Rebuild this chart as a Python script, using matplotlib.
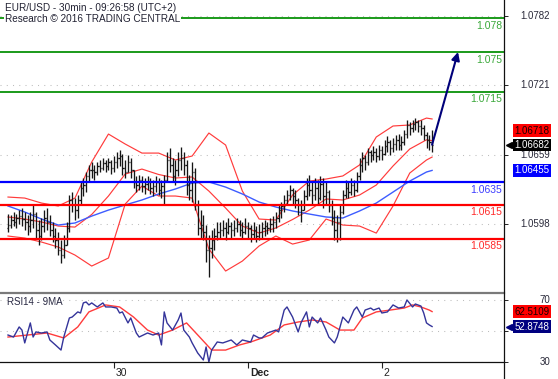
import numpy as np
import matplotlib.pyplot as plt
from matplotlib import transforms
from matplotlib.lines import Line2D

plt.rcParams['font.family'] = ['Liberation Sans', 'DejaVu Sans']

W, H = 558, 379

# EUR/USD 30min bars, bar 0 = 29 Nov 05:00 (UTC+2)
day_ticks = [38, 86, 134]
day_labels = ['30', 'Dec', '2']

first_open = 1.05947
highs = [
    1.06070, 1.06061, 1.06088, 1.06070, 1.06106, 1.06123, 1.06088, 1.06061, 1.06088, 1.06150,
    1.06088, 1.06017, 1.06035, 1.06106, 1.06123, 1.06061, 1.06000, 1.05947, 1.05911, 1.05841,
    1.05885, 1.06000, 1.06238, 1.06264, 1.06211, 1.06238, 1.06353, 1.06388, 1.06441, 1.06503,
    1.06529, 1.06503, 1.06529, 1.06547, 1.06564, 1.06547, 1.06564, 1.06547, 1.06582, 1.06617,
    1.06635, 1.06600, 1.06547, 1.06591, 1.06564, 1.06459, 1.06406, 1.06414, 1.06406, 1.06388,
    1.06406, 1.06388, 1.06370, 1.06406, 1.06388, 1.06370, 1.06414, 1.06617, 1.06653, 1.06564,
    1.06547, 1.06617, 1.06662, 1.06617, 1.06547, 1.06414, 1.06529, 1.06476, 1.06194, 1.06106,
    1.06061, 1.05973, 1.05885, 1.05929, 1.05947, 1.06000, 1.06000, 1.06017, 1.06000, 1.06035,
    1.06000, 1.06017, 1.06035, 1.06017, 1.06000, 1.06035, 1.06000, 1.05973, 1.06000, 1.05964,
    1.05982, 1.06000, 1.06017, 1.06000, 1.06035, 1.06053, 1.06088, 1.06150, 1.06176, 1.06238,
    1.06282, 1.06326, 1.06300, 1.06282, 1.06211, 1.06194, 1.06282, 1.06388, 1.06414, 1.06353,
    1.06388, 1.06370, 1.06406, 1.06388, 1.06353, 1.06282, 1.06194, 1.06106, 1.06061, 1.06150,
    1.06282, 1.06370, 1.06353, 1.06388, 1.06370, 1.06441, 1.06564, 1.06617, 1.06591, 1.06653,
    1.06635, 1.06670, 1.06653, 1.06679, 1.06670, 1.06723, 1.06759, 1.06723, 1.06741, 1.06767,
    1.06776, 1.06759, 1.06812, 1.06900, 1.06882, 1.06900, 1.06917, 1.06900, 1.06900, 1.06856,
    1.06794, 1.06767, 1.06812]
lows = [
    1.05911, 1.05947, 1.05964, 1.05947, 1.05982, 1.05964, 1.05929, 1.05885, 1.05911, 1.05947,
    1.05858, 1.05797, 1.05841, 1.05911, 1.05929, 1.05876, 1.05823, 1.05770, 1.05708, 1.05638,
    1.05682, 1.05797, 1.05911, 1.06088, 1.06017, 1.06035, 1.06150, 1.06229, 1.06264, 1.06353,
    1.06388, 1.06370, 1.06414, 1.06441, 1.06459, 1.06441, 1.06459, 1.06423, 1.06441, 1.06476,
    1.06494, 1.06414, 1.06388, 1.06441, 1.06388, 1.06300, 1.06264, 1.06282, 1.06264, 1.06247,
    1.06282, 1.06247, 1.06229, 1.06264, 1.06238, 1.06211, 1.06158, 1.06353, 1.06441, 1.06353,
    1.06326, 1.06406, 1.06459, 1.06414, 1.06238, 1.06194, 1.06176, 1.06106, 1.05885, 1.05858,
    1.05841, 1.05647, 1.05514, 1.05682, 1.05752, 1.05841, 1.05858, 1.05876, 1.05841, 1.05894,
    1.05858, 1.05876, 1.05911, 1.05876, 1.05858, 1.05894, 1.05858, 1.05823, 1.05858, 1.05823,
    1.05841, 1.05858, 1.05876, 1.05894, 1.05911, 1.05911, 1.05947, 1.06000, 1.06035, 1.06088,
    1.06150, 1.06194, 1.06150, 1.06123, 1.06061, 1.06000, 1.06106, 1.06194, 1.06229, 1.06150,
    1.06194, 1.06150, 1.06194, 1.06123, 1.06150, 1.06088, 1.05973, 1.05841, 1.05823, 1.05841,
    1.06070, 1.06211, 1.06211, 1.06238, 1.06229, 1.06264, 1.06370, 1.06441, 1.06459, 1.06503,
    1.06529, 1.06547, 1.06529, 1.06547, 1.06547, 1.06591, 1.06617, 1.06591, 1.06617, 1.06635,
    1.06635, 1.06635, 1.06679, 1.06741, 1.06767, 1.06794, 1.06812, 1.06794, 1.06767, 1.06723,
    1.06653, 1.06635, 1.06617]
closes = [
    1.05973, 1.06017, 1.06000, 1.06035, 1.06053, 1.06026, 1.06000, 1.05964, 1.06017, 1.06070,
    1.05929, 1.05876, 1.05964, 1.06035, 1.06000, 1.05929, 1.05876, 1.05841, 1.05752, 1.05708,
    1.05797, 1.05947, 1.06194, 1.06150, 1.06106, 1.06194, 1.06300, 1.06326, 1.06406, 1.06459,
    1.06459, 1.06441, 1.06494, 1.06476, 1.06520, 1.06494, 1.06529, 1.06476, 1.06529, 1.06564,
    1.06582, 1.06476, 1.06441, 1.06529, 1.06459, 1.06353, 1.06326, 1.06370, 1.06317, 1.06335,
    1.06353, 1.06300, 1.06317, 1.06353, 1.06282, 1.06317, 1.06370, 1.06547, 1.06503, 1.06406,
    1.06459, 1.06547, 1.06564, 1.06503, 1.06326, 1.06282, 1.06441, 1.06150, 1.05947, 1.05973,
    1.05911, 1.05752, 1.05770, 1.05841, 1.05876, 1.05911, 1.05929, 1.05947, 1.05911, 1.05964,
    1.05929, 1.05947, 1.05982, 1.05929, 1.05911, 1.05964, 1.05947, 1.05894, 1.05929, 1.05876,
    1.05911, 1.05947, 1.05964, 1.05947, 1.05982, 1.06000, 1.06035, 1.06106, 1.06141, 1.06194,
    1.06238, 1.06282, 1.06229, 1.06194, 1.06150, 1.06106, 1.06229, 1.06326, 1.06282, 1.06238,
    1.06300, 1.06211, 1.06335, 1.06229, 1.06264, 1.06150, 1.06035, 1.05929, 1.06000, 1.06088,
    1.06238, 1.06300, 1.06264, 1.06326, 1.06282, 1.06406, 1.06503, 1.06564, 1.06529, 1.06617,
    1.06591, 1.06617, 1.06582, 1.06635, 1.06600, 1.06670, 1.06706, 1.06653, 1.06688, 1.06723,
    1.06679, 1.06706, 1.06776, 1.06856, 1.06829, 1.06864, 1.06882, 1.06847, 1.06829, 1.06767,
    1.06723, 1.06706, 1.06682]

# bollinger (20) and MA50, read every 6 bars
ind_idx = [0, 6, 12, 18, 24, 30, 36, 42, 48, 54, 60, 66, 72, 78, 84, 90, 96, 102, 108, 114,
           120, 126, 132, 138, 144, 150, 152]
bb_upper = [1.06220, 1.06211, 1.06167, 1.06141, 1.06211, 1.06529, 1.06776, 1.06688, 1.06608,
            1.06608, 1.06547, 1.06582, 1.06785, 1.06679, 1.06273, 1.06026, 1.06017, 1.06238,
            1.06361, 1.06379, 1.06406, 1.06503, 1.06750, 1.06847, 1.06856, 1.06917, 1.06909]
bb_mid = [1.06044, 1.06026, 1.06000, 1.05964, 1.05955, 1.06066, 1.06229, 1.06423, 1.06467,
          1.06419, 1.06388, 1.06397, 1.06273, 1.06123, 1.05964, 1.05902, 1.05947, 1.06022,
          1.06105, 1.06203, 1.06194, 1.06238, 1.06326, 1.06494, 1.06644, 1.06725, 1.06718]
bb_lower = [1.05876, 1.05858, 1.05823, 1.05779, 1.05708, 1.05611, 1.05682, 1.06158, 1.06317,
            1.06229, 1.06229, 1.06211, 1.05761, 1.05567, 1.05655, 1.05788, 1.05876, 1.05805,
            1.05841, 1.06026, 1.05973, 1.05964, 1.05902, 1.06141, 1.06432, 1.06547, 1.06573]
ma50 = [1.06141, 1.06088, 1.06026, 1.05973, 1.05991, 1.06052, 1.06105, 1.06150, 1.06194,
        1.06247, 1.06291, 1.06344, 1.06353, 1.06308, 1.06247, 1.06176, 1.06132, 1.06097,
        1.06070, 1.06044, 1.06035, 1.06097, 1.06167, 1.06264, 1.06361, 1.06441, 1.06455]

# RSI14 and its 9MA
rsi_idx = [0, 2, 4, 5, 6, 8, 9, 10, 12, 14, 15, 17, 19, 20, 22, 23, 25, 26, 27, 28,
           29, 30, 32, 34, 35, 37, 39, 40, 41, 43, 44, 46, 47, 50, 52, 54, 55, 56, 57, 59,
           61, 62, 63, 65, 66, 68, 70, 71, 72, 73, 75, 77, 80, 82, 84, 87, 88, 90, 91, 93,
           96, 97, 99, 100, 102, 104, 105, 107, 108, 109, 111, 112, 114, 115, 117, 118, 120, 122, 124, 125,
           127, 128, 130, 131, 133, 134, 136, 138, 140, 142, 143, 145, 146, 148, 149, 150, 151, 152]
rsi_val = [47.4, 46.1, 52.6, 50.6, 42.3, 55.2, 46.1, 49.4, 48.7, 49.4, 44.2, 41.0, 37.7, 46.1, 58.4, 59.0, 62.3, 61.6, 68.1, 68.7,
           66.8, 68.1, 65.5, 68.1, 65.5, 65.5, 64.8, 61.6, 62.3, 55.2, 58.4, 48.7, 46.1, 48.7, 47.4, 48.7, 41.0, 62.3, 55.2, 50.6,
           57.1, 61.6, 50.6, 46.1, 42.3, 35.8, 31.3, 39.7, 30.0, 37.7, 42.9, 42.3, 44.2, 41.0, 44.2, 42.9, 47.4, 45.5, 45.5, 48.7,
           50.6, 49.4, 63.5, 65.5, 59.0, 49.4, 55.2, 62.3, 52.6, 59.0, 55.2, 58.4, 50.6, 46.1, 42.3, 46.1, 59.0, 55.2, 63.5, 65.5,
           59.0, 63.5, 64.8, 63.5, 64.8, 61.6, 62.3, 66.8, 64.8, 65.5, 70.0, 65.5, 67.4, 66.1, 61.6, 55.2, 53.9, 52.87]
rma_idx = [0, 7, 14, 20, 25, 29, 35, 40, 45, 50, 54, 59, 64, 69, 73, 78, 83, 87, 94, 99,
           104, 109, 114, 119, 124, 127, 132, 137, 142, 145, 148, 151, 152]
rma_val = [46.1, 47.4, 48.7, 45.5, 52.6, 62.3, 66.8, 65.5, 59.0, 50.6, 47.4, 50.6, 55.2, 45.5, 37.7, 37.7, 41.0, 42.9, 47.4, 53.9,
           55.8, 57.1, 55.8, 50.6, 50.6, 58.4, 62.3, 63.5, 64.8, 66.8, 65.5, 63.5, 62.51]
rsi_ticks = [30, 50, 70]
rsi_labels = [30, 70]  # 50 sits under the value box

# key levels
green_levels = [1.078, 1.075, 1.0715]
blue_levels = [1.0635]
red_levels = [1.0615, 1.0585]
price_ticks = [1.0782, 1.0721, 1.0659, 1.0598]
target_bar, target_price = 161.3, 1.0750

last_ma20 = 1.06718
last_close = 1.06682
last_ma50 = 1.06455
last_rsi = 52.8748
last_rsi_ma = 62.5109

PX = 1 / 2.79  # bar units per pixel
XLIM = (-8 * PX, 496 * PX)

fig = plt.figure(figsize=(W / 100, H / 100), dpi=100)
fig.patch.set_facecolor('white')

def fy(py):
    return 1 - py / H

ax = fig.add_axes([0, fy(292), 504 / W, 292 / H])
ax.set_xlim(*XLIM)
ax.set_ylim(1.05382, 1.07959)
for s in ax.spines.values():
    s.set_visible(False)
ax.set_xticks([])
ax.yaxis.tick_right()
ax.set_yticks(price_ticks)
ax.tick_params(axis='y', length=3, width=0.7, color='#222222', labelright=False)
ax.grid(axis='y', color='#bdbdbd', linestyle=(0, (1, 5)), lw=0.75)

x = np.arange(len(closes))
opens = np.r_[first_open, closes[:-1]]
ax.vlines(x, lows, highs, color='#151515', lw=0.95, zorder=3)
ax.hlines(opens, x - 0.45, x, color='#151515', lw=0.95, zorder=3)
ax.hlines(closes, x, x + 0.45, color='#151515', lw=0.95, zorder=3)

for arr in (bb_upper, bb_mid, bb_lower):
    ax.plot(ind_idx, arr, color='#ff3b3b', lw=0.85, zorder=2)
ax.plot(ind_idx, ma50, color='#3d5cff', lw=1.0, zorder=2)

trans = transforms.blended_transform_factory(fig.transFigure, ax.transData)
below = transforms.offset_copy(trans, fig=fig, y=-2.5, units='dots')
for levels, col, tcol, lw in ((green_levels, '#1a9a1a', '#3aa83a', 1.4),
                              (blue_levels, '#0000ff', '#3b3bff', 1.6),
                              (red_levels, '#ff0000', '#ff2a2a', 1.6)):
    for v in levels:
        ax.axhline(v, color=col, lw=lw, zorder=4)
        ax.text(502 / W, v, f'{v:g}', transform=below, ha='right', va='top',
                fontsize=7.5, color=tcol, zorder=5)

for v in price_ticks:
    ax.text(550 / W, v, f'{v:.4f}', transform=trans, ha='right', va='center',
            fontsize=7, color='#2a2a3a', clip_on=False)

ax.annotate('', xy=(target_bar, target_price), xytext=(len(closes) - 1, last_close),
            arrowprops=dict(arrowstyle='-|>', color='#00007a', lw=1.5,
                            mutation_scale=12, shrinkA=0, shrinkB=0), zorder=6)

# value boxes on the right
up = transforms.offset_copy(trans, fig=fig, y=10, units='dots')
ax.text(532 / W, last_ma20, f'{last_ma20:.5f}', transform=up, ha='center', va='center',
        fontsize=7, color='#1a0000', clip_on=False,
        bbox=dict(boxstyle='square,pad=0.12', fc='#ff0000', ec='none'))
ax.text(532 / W, last_close, f'{last_close:.5f}', transform=trans, ha='center', va='center',
        fontsize=7, color='white', clip_on=False,
        bbox=dict(boxstyle='square,pad=0.12', fc='black', ec='none'))
ax.plot([509 / W], [last_close], marker='<', ms=5, color='black', transform=trans,
        clip_on=False)
ax.text(532 / W, last_ma50, f'{last_ma50:.5f}', transform=trans, ha='center', va='center',
        fontsize=7, color='white', clip_on=False,
        bbox=dict(boxstyle='square,pad=0.12', fc='#0000ff', ec='none'))

# RSI panel
axr = fig.add_axes([0, fy(362), 504 / W, (362 - 293) / H])
axr.set_xlim(*XLIM)
axr.set_ylim(30, 74.5)
for k, s in axr.spines.items():
    s.set_visible(k == 'bottom')
axr.spines['bottom'].set_color('#111111')
axr.spines['bottom'].set_linewidth(0.9)
axr.yaxis.tick_right()
axr.set_yticks(rsi_ticks)
axr.tick_params(axis='y', length=3, width=0.7, color='#222222', labelright=False)
axr.grid(axis='y', color='#bdbdbd', linestyle=(0, (1, 5)), lw=0.75)
axr.set_xticks(day_ticks)
axr.set_xticklabels(day_labels, fontsize=7.5, color='#222222')
axr.tick_params(axis='x', length=4, width=0.8, color='#222222', pad=0)
shift = transforms.ScaledTranslation(2 / 100, 0, fig.dpi_scale_trans)
for lbl in axr.get_xticklabels():
    lbl.set_ha('left')
    lbl.set_transform(lbl.get_transform() + shift)
for lbl in axr.get_xticklabels()[1:2]:
    lbl.set_fontweight('bold')

axr.plot(rma_idx, rma_val, color='#ff3b3b', lw=1.0)
axr.plot(rsi_idx, rsi_val, color='#34349a', lw=1.0)

rtrans = transforms.blended_transform_factory(fig.transFigure, axr.transData)
for v in rsi_labels:
    axr.text(550 / W, v, str(v), transform=rtrans, ha='right', va='center',
             fontsize=7, color='#2a2a3a', clip_on=False)
axr.text(532 / W, last_rsi_ma, f'{last_rsi_ma:.4f}', transform=rtrans, ha='center',
         va='center', fontsize=7, color='#1a0000', clip_on=False,
         bbox=dict(boxstyle='square,pad=0.12', fc='#ff0000', ec='none'))
axr.text(532 / W, last_rsi, f'{last_rsi:.4f}', transform=rtrans, ha='center',
         va='center', fontsize=7, color='white', clip_on=False, zorder=6,
         bbox=dict(boxstyle='square,pad=0.12', fc='#000080', ec='none'))
axr.plot([509 / W], [last_rsi], marker='<', ms=5, color='#000080', transform=rtrans,
         clip_on=False, zorder=6)
axr.text(7 / W, fy(297), 'RSI14 - 9MA', transform=fig.transFigure, ha='left', va='top',
         fontsize=7, color='#2a2a44')

# frame lines
fig.add_artist(Line2D([0, 504 / W], [fy(293), fy(293)], color='#7a7a7a', lw=1.6))
fig.add_artist(Line2D([504 / W, 504 / W], [0, 1], color='#111111', lw=0.9))

fig.text(5 / W, fy(3), 'EUR/USD - 30min - 09:26:58 (UTC+2)\nResearch \u00a9 2016 TRADING CENTRAL',
         ha='left', va='top', fontsize=7.2, color='#222233', linespacing=1.15,
         bbox=dict(boxstyle='square,pad=0.1', fc='white', ec='none'))

fig.savefig('out.png', dpi=100)
